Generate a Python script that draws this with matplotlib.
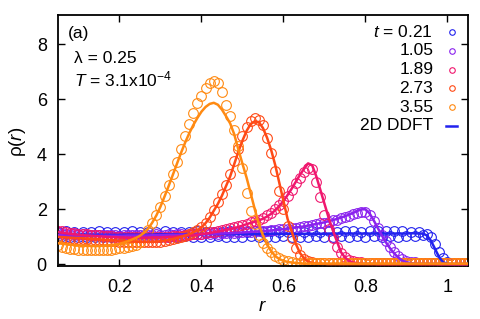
import numpy as np
import matplotlib
matplotlib.use("Agg")
import matplotlib.pyplot as plt

plt.rcParams['font.family'] = ['Liberation Sans', 'DejaVu Sans']
plt.rcParams['mathtext.fontset'] = 'custom'
plt.rcParams['mathtext.rm'] = 'Liberation Sans'
plt.rcParams['mathtext.it'] = 'Liberation Sans:italic'

# radial grid of the samples, r = 0.05 ... 1.05
r = np.round(np.arange(0.05, 1.0501, 0.01), 2)

times = ["0.21", "1.05", "1.89", "2.73", "3.55"]
colors = ["#2222ee", "#8a22ee", "#f0176e", "#ff4a16", "#ff8a12"]

# 2D DDFT curves
ddft_021 = [1.08, 1.08, 1.07, 1.07, 1.07, 1.07, 1.07, 1.07, 1.07, 1.07,
            1.07, 1.07, 1.07, 1.07, 1.07, 1.07, 1.08, 1.08, 1.08, 1.08,
            1.08, 1.08, 1.08, 1.08, 1.09, 1.09, 1.09, 1.09, 1.09, 1.09,
            1.09, 1.09, 1.10, 1.10, 1.10, 1.10, 1.10, 1.10, 1.10, 1.10,
            1.10, 1.10, 1.10, 1.10, 1.10, 1.10, 1.10, 1.10, 1.10, 1.10,
            1.10, 1.10, 1.11, 1.11, 1.11, 1.11, 1.11, 1.11, 1.11, 1.11,
            1.11, 1.11, 1.11, 1.11, 1.11, 1.11, 1.12, 1.12, 1.12, 1.12,
            1.12, 1.12, 1.12, 1.12, 1.12, 1.12, 1.12, 1.12, 1.12, 1.12,
            1.12, 1.12, 1.12, 1.12, 1.12, 1.12, 1.13, 1.13, 1.12, 1.12,
            1.05, 0.85, 0.55, 0.25, 0.07, 0.02, 0.01, 0.01, 0.01, 0.01,
            0.01]
ddft_105 = [1.06, 1.06, 1.05, 1.05, 1.05, 1.04, 1.04, 1.04, 1.04, 1.04,
            1.04, 1.04, 1.04, 1.04, 1.04, 1.04, 1.04, 1.05, 1.05, 1.05,
            1.05, 1.05, 1.05, 1.06, 1.06, 1.06, 1.06, 1.07, 1.07, 1.07,
            1.08, 1.08, 1.08, 1.09, 1.09, 1.10, 1.10, 1.11, 1.11, 1.12,
            1.12, 1.13, 1.13, 1.14, 1.15, 1.16, 1.17, 1.18, 1.19, 1.20,
            1.21, 1.22, 1.23, 1.25, 1.26, 1.28, 1.30, 1.32, 1.34, 1.36,
            1.38, 1.41, 1.44, 1.47, 1.50, 1.53, 1.57, 1.61, 1.65, 1.70,
            1.75, 1.81, 1.87, 1.94, 2.00, 2.00, 1.85, 1.60, 1.32, 1.05,
            0.80, 0.58, 0.40, 0.25, 0.14, 0.08, 0.05, 0.03, 0.02, 0.02,
            0.02, 0.02, 0.02, 0.01, 0.01, 0.01, 0.01, 0.01, 0.01, 0.01,
            0.01]
ddft_189 = [1.18, 1.15, 1.13, 1.11, 1.09, 1.08, 1.06, 1.05, 1.04, 1.03,
            1.02, 1.01, 1.00, 0.99, 0.99, 0.98, 0.98, 0.97, 0.97, 0.97,
            0.97, 0.97, 0.97, 0.98, 0.98, 0.98, 0.99, 1.00, 1.00, 1.01,
            1.02, 1.03, 1.05, 1.06, 1.08, 1.10, 1.12, 1.14, 1.17, 1.19,
            1.22, 1.25, 1.28, 1.32, 1.36, 1.41, 1.46, 1.51, 1.55, 1.60,
            1.66, 1.74, 1.84, 1.97, 2.13, 2.30, 2.52, 2.75, 3.00, 3.25,
            3.47, 3.67, 3.60, 3.20, 2.70, 2.20, 1.70, 1.25, 0.85, 0.45,
            0.25, 0.13, 0.07, 0.04, 0.03, 0.02, 0.02, 0.02, 0.01, 0.01,
            0.01, 0.01, 0.01, 0.01, 0.01, 0.01, 0.01, 0.01, 0.01, 0.01,
            0.01, 0.01, 0.01, 0.01, 0.01, 0.01, 0.01, 0.01, 0.01, 0.01,
            0.01]
ddft_273 = [1.00, 0.99, 0.98, 0.97, 0.96, 0.96, 0.95, 0.94, 0.93, 0.92,
            0.91, 0.90, 0.89, 0.88, 0.87, 0.86, 0.85, 0.84, 0.83, 0.83,
            0.82, 0.82, 0.82, 0.82, 0.83, 0.84, 0.86, 0.89, 0.92, 0.96,
            1.00, 1.05, 1.10, 1.16, 1.24, 1.35, 1.50, 1.70, 1.95, 2.20,
            2.50, 2.85, 3.20, 3.65, 4.10, 4.50, 4.85, 5.10, 5.20, 5.17,
            4.95, 4.60, 4.15, 3.60, 2.95, 2.30, 1.65, 1.20, 0.75, 0.42,
            0.22, 0.10, 0.05, 0.03, 0.02, 0.02, 0.01, 0.01, 0.01, 0.01,
            0.01, 0.01, 0.01, 0.01, 0.01, 0.01, 0.01, 0.01, 0.01, 0.01,
            0.01, 0.01, 0.01, 0.01, 0.01, 0.01, 0.01, 0.01, 0.01, 0.01,
            0.01, 0.01, 0.01, 0.01, 0.01, 0.01, 0.01, 0.01, 0.01, 0.01,
            0.01]
ddft_355 = [0.77, 0.75, 0.73, 0.72, 0.70, 0.69, 0.68, 0.68, 0.67, 0.67,
            0.67, 0.68, 0.69, 0.70, 0.72, 0.75, 0.79, 0.84, 0.90, 0.96,
            1.04, 1.15, 1.30, 1.52, 1.78, 2.10, 2.47, 2.85, 3.25, 3.65,
            4.05, 4.42, 4.76, 5.06, 5.32, 5.55, 5.72, 5.83, 5.87, 5.80,
            5.62, 5.38, 5.12, 4.72, 4.17, 3.65, 3.15, 2.58, 2.00, 1.45,
            1.05, 0.72, 0.48, 0.30, 0.19, 0.13, 0.09, 0.07, 0.05, 0.04,
            0.03, 0.03, 0.03, 0.03, 0.03, 0.03, 0.03, 0.03, 0.03, 0.03,
            0.03, 0.03, 0.03, 0.03, 0.03, 0.03, 0.03, 0.03, 0.03, 0.03,
            0.03, 0.03, 0.03, 0.03, 0.03, 0.03, 0.03, 0.03, 0.03, 0.03,
            0.03, 0.03, 0.03, 0.03, 0.03, 0.03, 0.03, 0.03, 0.03, 0.03,
            0.03]

# simulation points
sim_021 = [1.18, 1.02, 1.20, 0.98, 1.17, 1.01, 1.19, 1.00, 1.16, 0.99,
           1.20, 1.01, 1.18, 0.98, 1.19, 1.02, 1.17, 1.00, 1.20, 0.99,
           1.18, 1.01, 1.19, 1.00, 1.17, 0.98, 1.20, 1.01, 1.18, 1.00,
           1.19, 1.02, 1.18, 0.99, 1.20, 1.01, 1.17, 1.00, 1.19, 1.02,
           1.18, 0.99, 1.20, 1.01, 1.19, 1.00, 1.18, 1.02, 1.20, 0.99,
           1.19, 1.01, 1.20, 1.00, 1.18, 1.02, 1.19, 0.99, 1.20, 1.01,
           1.18, 1.00, 1.20, 1.02, 1.19, 1.00, 1.21, 1.01, 1.19, 1.02,
           1.20, 1.00, 1.21, 1.02, 1.19, 1.01, 1.20, 1.03, 1.21, 1.01,
           1.20, 1.02, 1.21, 1.01, 1.20, 1.03, 1.19, 1.04, 1.17, 1.06,
           1.10, 0.98, 0.75, 0.45, 0.22, 0.10, 0.06, 0.05, 0.06, 0.05,
           0.05]
sim_105 = [1.15, 1.10, 1.12, 1.08, 1.10, 1.07, 1.09, 1.06, 1.08, 1.07,
           1.06, 1.08, 1.05, 1.07, 1.06, 1.04, 1.07, 1.05, 1.06, 1.07,
           1.05, 1.08, 1.06, 1.07, 1.09, 1.06, 1.08, 1.10, 1.07, 1.09,
           1.10, 1.08, 1.11, 1.09, 1.12, 1.10, 1.13, 1.11, 1.14, 1.12,
           1.15, 1.13, 1.16, 1.15, 1.18, 1.16, 1.20, 1.18, 1.21, 1.20,
           1.23, 1.22, 1.25, 1.24, 1.27, 1.28, 1.30, 1.31, 1.34, 1.35,
           1.38, 1.40, 1.43, 1.45, 1.49, 1.52, 1.55, 1.60, 1.63, 1.68,
           1.72, 1.77, 1.82, 1.86, 1.89, 1.90, 1.80, 1.58, 1.32, 1.08,
           0.85, 0.62, 0.45, 0.30, 0.20, 0.13, 0.09, 0.07, 0.06, 0.06,
           0.05, 0.06, 0.05, 0.05, 0.06, 0.05, 0.05, 0.06, 0.05, 0.05,
           0.05]
sim_189 = [1.22, 1.20, 1.17, 1.15, 1.13, 1.12, 1.10, 1.09, 1.07, 1.06,
           1.05, 1.04, 1.03, 1.02, 1.01, 1.00, 1.00, 0.99, 0.99, 0.98,
           0.98, 0.98, 0.99, 0.98, 0.99, 1.00, 1.00, 1.01, 1.02, 1.03,
           1.04, 1.05, 1.07, 1.09, 1.10, 1.12, 1.14, 1.17, 1.19, 1.22,
           1.25, 1.28, 1.31, 1.35, 1.39, 1.43, 1.48, 1.53, 1.58, 1.63,
           1.70, 1.78, 1.88, 2.00, 2.14, 2.30, 2.50, 2.72, 2.95, 3.15,
           3.35, 3.50, 3.45, 3.00, 2.45, 1.80, 1.30, 0.95, 0.65, 0.42,
           0.27, 0.17, 0.11, 0.08, 0.07, 0.06, 0.05, 0.05, 0.06, 0.05,
           0.05, 0.05, 0.06, 0.05, 0.05, 0.05, 0.06, 0.05, 0.05, 0.05,
           0.05, 0.05, 0.05, 0.06, 0.05, 0.05, 0.05, 0.05, 0.05, 0.05,
           0.05]
sim_273 = [0.98, 0.97, 0.95, 0.94, 0.93, 0.92, 0.92, 0.91, 0.90, 0.89,
           0.88, 0.87, 0.86, 0.85, 0.84, 0.83, 0.82, 0.82, 0.81, 0.80,
           0.80, 0.80, 0.80, 0.81, 0.82, 0.83, 0.85, 0.88, 0.91, 0.95,
           0.99, 1.04, 1.10, 1.16, 1.25, 1.37, 1.52, 1.72, 1.97, 2.25,
           2.55, 2.90, 3.30, 3.75, 4.20, 4.65, 5.00, 5.22, 5.30, 5.25,
           5.05, 4.60, 4.05, 3.40, 2.65, 2.00, 1.40, 0.95, 0.58, 0.35,
           0.20, 0.12, 0.08, 0.06, 0.05, 0.05, 0.04, 0.05, 0.04, 0.04,
           0.05, 0.04, 0.05, 0.04, 0.05, 0.04, 0.05, 0.04, 0.05, 0.04,
           0.05, 0.04, 0.05, 0.04, 0.05, 0.04, 0.05, 0.04, 0.05, 0.04,
           0.05, 0.04, 0.05, 0.04, 0.05, 0.04, 0.05, 0.04, 0.05, 0.04,
           0.05]
sim_355 = [0.70, 0.64, 0.60, 0.57, 0.55, 0.53, 0.52, 0.52, 0.51, 0.51,
           0.51, 0.52, 0.53, 0.54, 0.56, 0.58, 0.60, 0.63, 0.66, 0.72,
           0.82, 0.98, 1.25, 1.50, 1.78, 2.10, 2.50, 2.90, 3.30, 3.72,
           4.20, 4.65, 5.10, 5.50, 5.85, 6.10, 6.40, 6.60, 6.65, 6.58,
           6.25, 5.80, 5.40, 4.90, 4.30, 3.50, 2.60, 1.95, 1.45, 1.05,
           0.78, 0.58, 0.45, 0.32, 0.22, 0.15, 0.11, 0.08, 0.06, 0.05,
           0.05, 0.05, 0.05, 0.05, 0.05, 0.05, 0.05, 0.05, 0.05, 0.05,
           0.05, 0.05, 0.05, 0.05, 0.05, 0.05, 0.05, 0.05, 0.05, 0.05,
           0.05, 0.05, 0.05, 0.05, 0.05, 0.05, 0.05, 0.05, 0.05, 0.05,
           0.05, 0.05, 0.05, 0.05, 0.05, 0.05, 0.05, 0.05, 0.05, 0.05,
           0.05]

sims = [sim_021, sim_105, sim_189, sim_273, sim_355]
ddfts = [ddft_021, ddft_105, ddft_189, ddft_273, ddft_355]

fig = plt.figure(figsize=(4.8, 3.19), dpi=100)
ax = fig.add_axes([0.1208, 0.166, 0.8542, 0.787])

for s, c in zip(sims, colors):
    ax.plot(r, s, 'o', mfc='none', mec=c, ms=7, mew=0.8, zorder=2)
for d, c in zip(ddfts, colors):
    ax.plot(r, d, '-', color=c, lw=1.8, zorder=3)

ax.set_xlim(0.05, 1.05)
ax.set_ylim(-0.06, 9.06)
ax.set_xticks([0.2, 0.4, 0.6, 0.8, 1.0])
ax.set_xticklabels(["0.2", "0.4", "0.6", "0.8", "1"])
ax.set_yticks([0, 2, 4, 6, 8])
ax.tick_params(direction='in', length=5, width=1, top=True, right=True,
               labelsize=13)
ax.tick_params(axis='x', pad=9)
ax.tick_params(axis='y', pad=8)
for sp in ax.spines.values():
    sp.set_linewidth(1.3)

fig.text(0.037, 0.555, r'ρ($r$)', rotation=90, ha='center', va='center', fontsize=13.5)
fig.text(0.546, 0.04, r'$r$', ha='center', va='center', fontsize=13.5)

ax.text(0.024, 0.928, "(a)", transform=ax.transAxes, va='center', fontsize=12.5)
ax.text(0.039, 0.825, "λ = 0.25", transform=ax.transAxes, va='center', fontsize=12.5)
ax.text(0.039, 0.745, r'$T$ = 3.1x10$^{-4}$', transform=ax.transAxes, va='center', fontsize=12.5)

# key in gnuplot style: label then sample
rows = [0.931, 0.857, 0.782, 0.708, 0.633, 0.559]
labels = [r'$t$ = ' + times[0]] + times[1:]
for y, lab, c in zip(rows, labels, colors):
    ax.text(0.915, y, lab, transform=ax.transAxes, ha='right', va='center', fontsize=12.5)
    ax.plot([0.96], [y], 'o', mfc='none', mec=c, ms=4, mew=0.8,
            transform=ax.transAxes, clip_on=False)
ax.text(0.915, rows[5], "2D DDFT", transform=ax.transAxes, ha='right', va='center', fontsize=12.5)
ax.plot([0.946, 0.973], [rows[5], rows[5]], '-', color='#2222ee', lw=1.8,
        transform=ax.transAxes, clip_on=False)

fig.savefig("out.png", dpi=100)
